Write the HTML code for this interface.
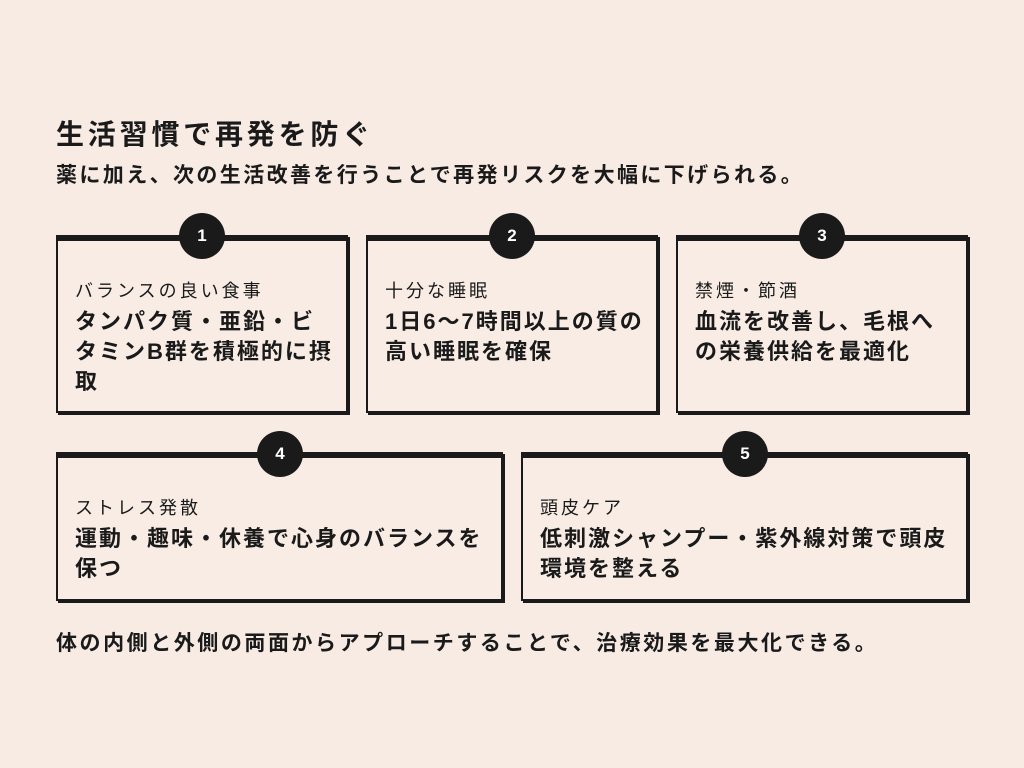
<!DOCTYPE html>
<html><head><meta charset="utf-8"><style>
*{margin:0;padding:0;box-sizing:border-box}
body{width:1024px;height:768px;background:#f7ebe4;position:relative;overflow:hidden;font-family:"Liberation Sans","Noto Sans CJK JP",sans-serif;color:#1a1a1a}
.t{position:absolute;white-space:nowrap}
.card{position:absolute;border:2px solid #1a1a1a;border-top:6px solid #1a1a1a;box-shadow:2px 2px 0 #1a1a1a;background:#f8ece5}
.c{position:absolute;width:46px;height:46px;border-radius:50%;background:#1a1a1a;color:#fff;font-weight:900;font-size:17px;text-align:center;line-height:46px}
.lab{position:absolute;left:17px;top:36px;font-size:18px;letter-spacing:3px;white-space:nowrap}
.body{position:absolute;left:17px;top:66px;font-size:22px;font-weight:bold;line-height:30px;letter-spacing:2px;white-space:nowrap}
</style></head><body>
<div class="t" style="left:56px;top:113px;font-size:28px;font-weight:bold;letter-spacing:3.8px">生活習慣で再発を防ぐ</div>
<div class="t" style="left:56px;top:159px;font-size:21px;font-weight:bold;letter-spacing:2.4px">薬に加え、次の生活改善を行うことで再発リスクを大幅に下げられる。</div>

<div class="card" style="left:56px;top:235px;width:292px;height:178px"><div class="lab">バランスの良い食事</div><div class="body">タンパク質・亜鉛・ビ<br>タミンB群を積極的に摂<br>取</div></div>
<div class="card" style="left:366px;top:235px;width:292px;height:178px"><div class="lab">十分な睡眠</div><div class="body">1日6〜7時間以上の質の<br>高い睡眠を確保</div></div>
<div class="card" style="left:676px;top:235px;width:292px;height:178px"><div class="lab">禁煙・節酒</div><div class="body">血流を改善し、毛根へ<br>の栄養供給を最適化</div></div>
<div class="card" style="left:56px;top:452px;width:447px;height:149px"><div class="lab">ストレス発散</div><div class="body">運動・趣味・休養で心身のバランスを<br>保つ</div></div>
<div class="card" style="left:521px;top:452px;width:447px;height:149px"><div class="lab">頭皮ケア</div><div class="body">低刺激シャンプー・紫外線対策で頭皮<br>環境を整える</div></div>

<div class="c" style="left:179px;top:213px">1</div>
<div class="c" style="left:489px;top:213px">2</div>
<div class="c" style="left:799px;top:213px">3</div>
<div class="c" style="left:257px;top:431px">4</div>
<div class="c" style="left:722px;top:431px">5</div>

<div class="t" style="left:56px;top:627px;font-size:21px;font-weight:bold;letter-spacing:2.55px">体の内側と外側の両面からアプローチすることで、治療効果を最大化できる。</div>
</body></html>
